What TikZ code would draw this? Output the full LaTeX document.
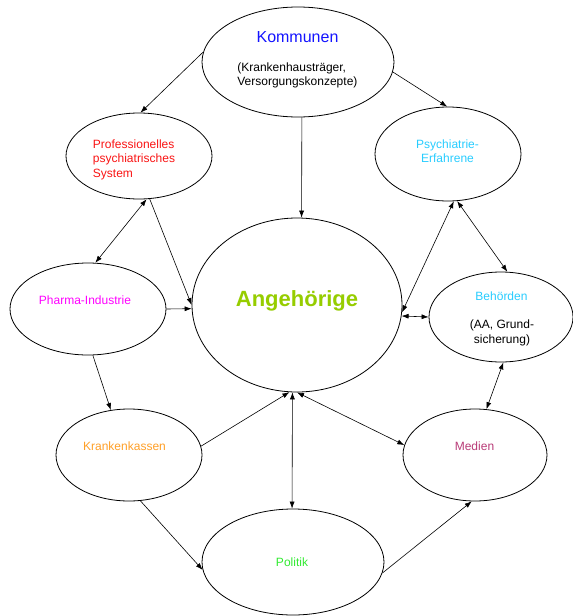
\documentclass[tikz,border=0pt]{standalone}
\usepackage{fontspec}
\setmainfont{Liberation Sans}
\usetikzlibrary{shapes.geometric,arrows.meta}
\definecolor{cKomm}{RGB}{20,20,255}
\definecolor{cProf}{RGB}{250,20,20}
\definecolor{cCyan}{RGB}{40,205,255}
\definecolor{cPharma}{RGB}{255,0,255}
\definecolor{cAng}{RGB}{150,205,0}
\definecolor{cKk}{RGB}{255,160,40}
\definecolor{cMed}{RGB}{185,60,120}
\definecolor{cPol}{RGB}{50,235,50}
\tikzset{
  ell/.style={draw=black, line width=0.8pt, ellipse, inner sep=0pt, fill=none},
  lbl/.style={inner sep=0pt, font=\fontsize{12}{14.5}\selectfont},
  conn/.style={line width=0.6pt, -{Latex[length=7pt,width=5pt]}},
  conn2/.style={line width=0.6pt, {Latex[length=7pt,width=5pt]}-{Latex[length=7pt,width=5pt]}}
}
\begin{document}
\begin{tikzpicture}[x=1pt,y=-1pt]
\fill[white] (0,0) rectangle (573,616);
\useasboundingbox (0,0) rectangle (573,616);
% ellipses
\node[ell, minimum width=192pt, minimum height=110pt] (K)  at (298,62)  {};
\node[ell, minimum width=146pt, minimum height=86pt]  (P)  at (139,156) {};
\node[ell, minimum width=146pt, minimum height=94pt]  (Ps) at (448,154) {};
\node[ell, minimum width=156pt, minimum height=92pt]  (Ph) at (88,309)  {};
\node[ell, minimum width=144pt, minimum height=90pt]  (B)  at (501,317) {};
\node[ell, minimum width=210pt, minimum height=174pt] (A)  at (297,305) {};
\node[ell, minimum width=146pt, minimum height=92pt]  (Kk) at (129,455) {};
\node[ell, minimum width=144pt, minimum height=92pt]  (M)  at (475,455) {};
\node[ell, minimum width=182pt, minimum height=106pt] (Po) at (293,562) {};
% texts
\node[lbl, anchor=base, text=cKomm, font=\fontsize{16}{19}\selectfont] (tK) at (297.5,42.7) {Kommunen};
\node[lbl, align=left] (tK2) at (297.4,75.2) {(Krankenhausträger,\\Versorgungskonzepte)};
\node[lbl, align=left, text=cProf] (tP) at (134,159.5) {Professionelles\\psychiatrisches\\System};
\node[lbl, align=center, text=cCyan] (tPs) at (447.5,151.4) {Psychiatrie-\\Erfahrene};
\node[lbl, anchor=base, text=cPharma] (tPh) at (85,304) {Pharma-Industrie};
\node[lbl, anchor=base, text=cAng, font=\fontsize{22}{26}\selectfont\bfseries] (tA) at (297,306) {Angehörige};
\node[lbl, anchor=base, text=cCyan] (tB) at (501.5,300) {Behörden};
\node[lbl, align=center] (tB2) at (502,332.7) {(AA, Grund-\\sicherung)};
\node[lbl, anchor=base, text=cKk] (tKk) at (124.5,450.7) {Krankenkassen};
\node[lbl, anchor=base, text=cMed] (tM) at (474.5,450) {Medien};
\node[lbl, anchor=base, text=cPol] (tPo) at (292,566) {Politik};
% connectors
\draw[conn] (K.174) -- (P.88);
\draw[conn] (K.-6) -- (Ps.91);
\draw[conn] (K.-86) -- (A.87);
\draw[conn2] (P.-80) -- (Ph.81);
\draw[conn] (P.-76) -- (A.180);
\draw[conn] (Ph.east) -- (A.182);
\draw[conn] (Ph.-84) -- (Kk.112);
\draw[conn2] (Ps.-83) -- (A.-4.5);
\draw[conn2] (Ps.-79) -- (B.82);
\draw[conn2] (A.-6.6) -- (B.west);
\draw[conn2] (B.-87) -- (M.76.5);
\draw[conn] (Kk.7.8) -- (A.-95);
\draw[conn2] (A.-93) -- (Po.91);
\draw[conn2] (A.-90) -- (M.172);
\draw[conn] (Kk.-76) -- (Po.185.6);
\draw[conn] (Po.-7) -- (M.-94);
\end{tikzpicture}
\end{document}
